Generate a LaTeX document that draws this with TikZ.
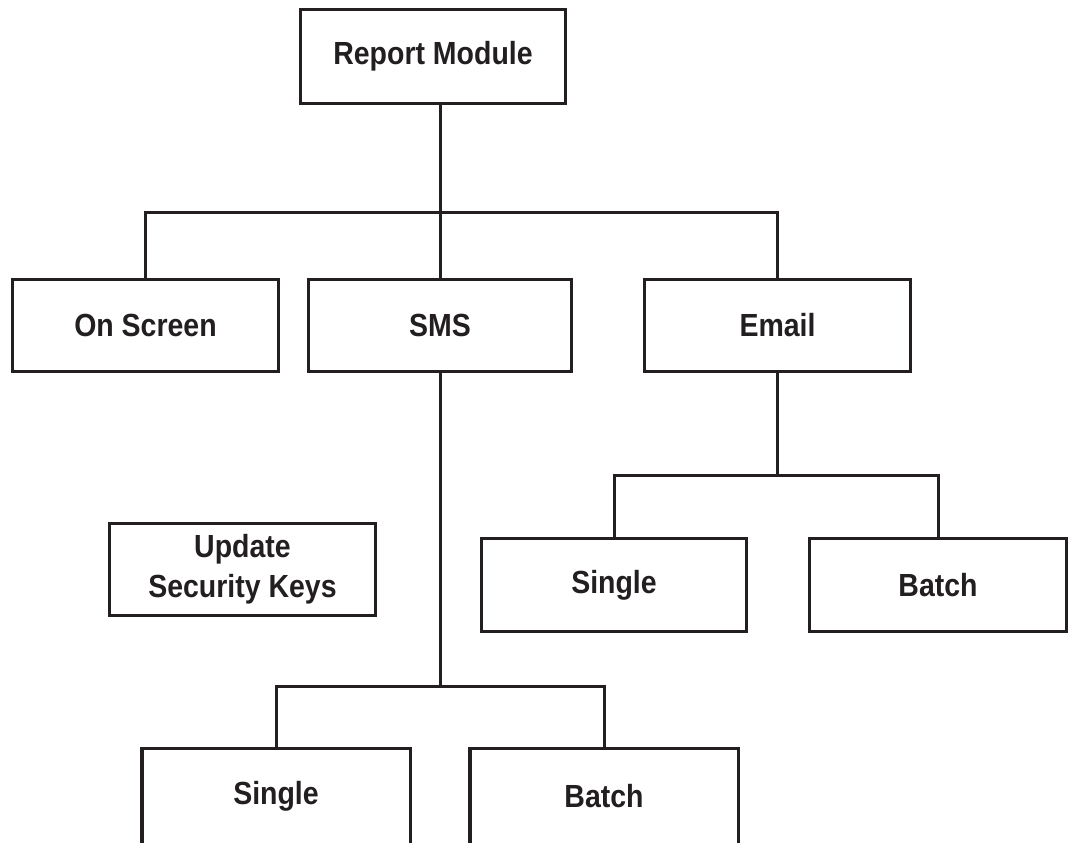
\documentclass[tikz,border=0pt]{standalone}
\usepackage{fontspec}
\setmainfont{Liberation Sans}[FakeStretch=0.89]
\definecolor{ink}{HTML}{231F20}
\begin{document}
\begin{tikzpicture}[x=1pt,y=-1pt,
  box/.style={draw=ink, line width=3.3pt, rectangle, inner sep=0pt, text=ink,
    font=\fontsize{32}{40}\selectfont\bfseries, align=center},
  wire/.style={draw=ink, line width=3pt},
  open/.style={draw=ink, line width=3.3pt}]
\useasboundingbox (0,0) rectangle (1071,843);
\clip (0,0) rectangle (1071,843);
\fill[white] (0,0) rectangle (1071,843);
% nodes
\node[box, minimum width=265pt, minimum height=94pt] (rm) at (433,56.5) {Report Module};
\node[box, minimum width=266pt, minimum height=92pt] (os) at (145.5,325.5) {On Screen};
\node[box, minimum width=263pt, minimum height=92pt] (sms) at (440,325.5) {SMS};
\node[box, minimum width=266pt, minimum height=92pt] (em) at (777.5,325.5) {Email};
\node[box, minimum width=265pt, minimum height=93pt] (es) at (614,585) {Single};
\node[box, minimum width=257pt, minimum height=93pt] (eb) at (938,585) {Batch};
\node[box, minimum width=266pt, minimum height=92pt] (usk) at (242.5,569.5) {Update\\Security Keys};
\node[box, draw=none, minimum width=265pt, minimum height=92pt] (ss) at (276,796) {Single};
\node[box, draw=none, minimum width=265pt, minimum height=92pt] (sb) at (604,796) {Batch};
\draw[open] ([yshift=-40pt]ss.south west) |- (ss.north east) -- ([yshift=-40pt]ss.south east);
\draw[open] ([yshift=-40pt]sb.south west) |- (sb.north east) -- ([yshift=-40pt]sb.south east);
% bus coordinates
\coordinate (bus1) at (440,212);
\coordinate (bus2) at (777.5,475);
\coordinate (bus3) at (440,686);
% connectors
\draw[wire] (rm.south -| sms.north) -- (sms.north);
\draw[wire] (os.north) |- (bus1) -| (em.north);
\draw[wire] (em.south) -- (bus2);
\draw[wire] (es.north) |- (bus2) -| (eb.north);
\draw[wire] (sms.south) -- (bus3);
\draw[wire] (ss.north) |- (bus3) -| (sb.north);
\end{tikzpicture}
\end{document}
